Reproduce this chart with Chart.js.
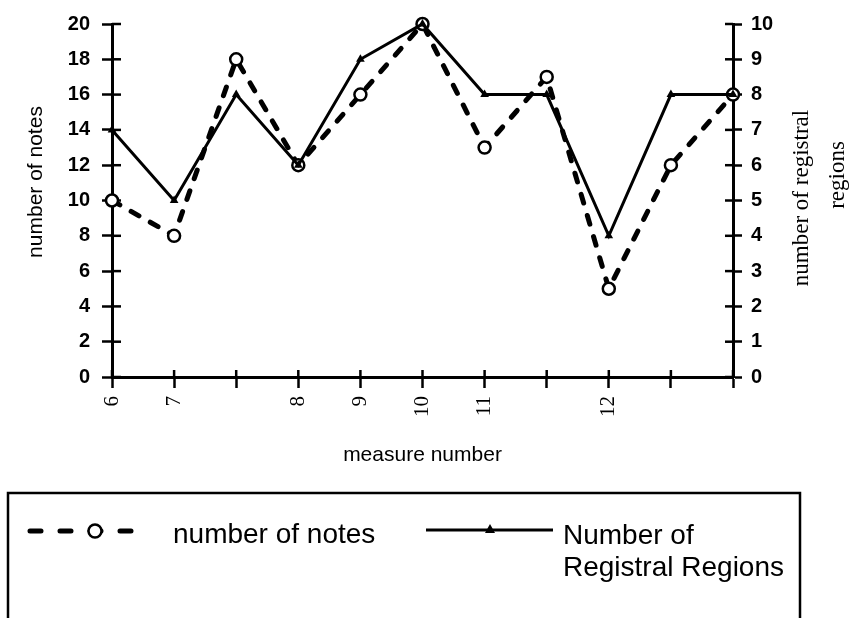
<!DOCTYPE html>
<html>
<head>
<meta charset="utf-8">
<script src="https://cdn.jsdelivr.net/npm/chart.js@4/dist/chart.umd.min.js"></script>
<style>
    html, body { margin: 0; padding: 0; background: #fff; }
    #wrap { width: 849px; height: 618px; }
</style>
</head>
<body>
<div id="wrap"><canvas id="canvas-1" width="849" height="618"></canvas></div>
<script>
// measure positions along the x axis (blank = unlabelled tick)
var measures = ['6', '7', '', '8', '9', '10', '11', '', '12', '', ''];
var notesCount = [10, 8, 18, 12, 16, 20, 13, 17, 5, 12, 16];
var registralRegions = [7, 5, 8, 6, 9, 10, 8, 8, 4, 8, 8];

var notesTicks = { min: 0, max: 20, step: 2 };
var regionTicks = { min: 0, max: 10, step: 1 };

var sans = '"Liberation Sans", Arial, Helvetica, sans-serif';
var serif = '"Liberation Serif", "Times New Roman", serif';

// short tick halves pointing into the plot, so the ticks cross the axes
var innerTicks = {
    id: 'innerTicks',
    beforeDatasetsDraw: function (chart) {
        var ctx = chart.ctx;
        var a = chart.chartArea;
        ctx.save();
        ctx.strokeStyle = '#000';
        ctx.lineWidth = 2.5;
        var y = chart.scales.y, y1 = chart.scales.y1, x = chart.scales.x;
        y.ticks.forEach(function (t, i) {
            var p = y.getPixelForTick(i);
            ctx.beginPath(); ctx.moveTo(a.left, p); ctx.lineTo(a.left + 9, p); ctx.stroke();
        });
        y1.ticks.forEach(function (t, i) {
            var p = y1.getPixelForTick(i);
            ctx.beginPath(); ctx.moveTo(a.right - 8, p); ctx.lineTo(a.right, p); ctx.stroke();
        });
        x.ticks.forEach(function (t, i) {
            var p = x.getPixelForTick(i);
            ctx.beginPath(); ctx.moveTo(p, a.bottom); ctx.lineTo(p, a.bottom - 7); ctx.stroke();
        });
        ctx.restore();
    }
};

// axis titles that read bottom-to-top, and the boxed legend under the chart
var extras = {
    id: 'extras',
    afterDraw: function (chart) {
        var ctx = chart.ctx;
        ctx.save();
        ctx.fillStyle = '#000';
        ctx.textAlign = 'center';
        ctx.textBaseline = 'alphabetic';

        ctx.save();
        ctx.translate(42, 182);
        ctx.rotate(-Math.PI / 2);
        ctx.font = '21px ' + sans;
        ctx.fillText('number of notes', 0, 0);
        ctx.restore();

        ctx.save();
        ctx.translate(808, 198);
        ctx.rotate(-Math.PI / 2);
        ctx.font = '23px ' + serif;
        ctx.fillText('number of registral', 0, 0);
        ctx.restore();

        ctx.save();
        ctx.translate(844, 175);
        ctx.rotate(-Math.PI / 2);
        ctx.font = '23px ' + serif;
        ctx.fillText('regions', 0, 0);
        ctx.restore();

        // legend box, open at the bottom
        ctx.strokeStyle = '#000';
        ctx.lineWidth = 2.5;
        ctx.beginPath();
        ctx.moveTo(8, 618); ctx.lineTo(8, 493); ctx.lineTo(800, 493); ctx.lineTo(800, 618);
        ctx.stroke();

        var ds = chart.data.datasets;
        // notes sample
        ctx.lineCap = 'round';
        ctx.lineWidth = ds[0].borderWidth;
        ctx.setLineDash([11, 19]);
        ctx.beginPath(); ctx.moveTo(30, 531); ctx.lineTo(138, 531); ctx.stroke();
        ctx.setLineDash([]);
        ctx.fillStyle = '#fff';
        ctx.lineWidth = ds[0].pointBorderWidth;
        ctx.beginPath(); ctx.arc(95, 531, 6.5, 0, Math.PI * 2); ctx.fill(); ctx.stroke();

        // registral sample
        ctx.lineCap = 'butt';
        ctx.lineWidth = ds[1].borderWidth;
        ctx.beginPath(); ctx.moveTo(426, 530); ctx.lineTo(553, 530); ctx.stroke();
        ctx.fillStyle = '#000';
        ctx.beginPath(); ctx.moveTo(490, 524); ctx.lineTo(495, 533); ctx.lineTo(485, 533); ctx.closePath(); ctx.fill();

        ctx.font = '28px ' + sans;
        ctx.textAlign = 'left';
        ctx.textBaseline = 'middle';
        ctx.fillText('number of notes', 173, 535);
        ctx.fillText('Number of', 563, 536);
        ctx.fillText('Registral Regions', 563, 568);
        ctx.restore();
    }
};

var lineChart = new Chart(document.getElementById('canvas-1'), {
    type: 'line',
    data: {
        labels: measures,
        datasets: [{
            label: 'number of notes',
            data: notesCount,
            yAxisID: 'y',
            order: 2,
            borderColor: '#000',
            borderWidth: 5,
            borderDash: [9, 13],
            borderCapStyle: 'round',
            pointStyle: 'circle',
            pointRadius: 6,
            pointBorderWidth: 2.5,
            pointBackgroundColor: '#fff',
            pointBorderColor: '#000',
            tension: 0,
            clip: false
        }, {
            label: 'Number of Registral Regions',
            data: registralRegions,
            yAxisID: 'y1',
            order: 1,
            borderColor: '#000',
            borderWidth: 3,
            pointStyle: 'triangle',
            pointRadius: 5,
            pointBorderWidth: 0,
            pointBackgroundColor: '#000',
            pointBorderColor: '#000',
            tension: 0,
            clip: false
        }]
    },
    options: {
        responsive: false,
        animation: false,
        layout: { padding: { top: 22, bottom: 150, left: 0, right: 0 } },
        plugins: { legend: { display: false }, tooltip: { enabled: false } },
        scales: {
            x: {
                offset: false,
                afterFit: function (s) { s.height = 91; },
                border: { display: true, color: '#000', width: 3 },
                grid: { drawOnChartArea: false, color: '#000', tickLength: 11, tickWidth: 2.5 },
                ticks: { autoSkip: false, minRotation: 90, maxRotation: 90, padding: 8, color: '#000', font: { family: serif, size: 21 } },
                title: { display: true, text: 'measure number', color: '#000', padding: 0, font: { family: sans, size: 21 } }
            },
            y: {
                position: 'left',
                min: notesTicks.min,
                max: notesTicks.max,
                afterFit: function (s) { s.width = 112; },
                border: { display: true, color: '#000', width: 3 },
                grid: { drawOnChartArea: false, color: '#000', tickLength: 10, tickWidth: 2.5 },
                ticks: { stepSize: notesTicks.step, padding: 12, color: '#000', font: { family: sans, size: 20, weight: 'bold' } }
            },
            y1: {
                position: 'right',
                min: regionTicks.min,
                max: regionTicks.max,
                afterFit: function (s) { s.width = 116; },
                border: { display: true, color: '#000', width: 3 },
                grid: { drawOnChartArea: false, color: '#000', tickLength: 9, tickWidth: 2.5 },
                ticks: { stepSize: regionTicks.step, padding: 9, color: '#000', font: { family: sans, size: 20, weight: 'bold' } }
            }
        }
    },
    plugins: [innerTicks, extras]
});
</script>
</body>
</html>
